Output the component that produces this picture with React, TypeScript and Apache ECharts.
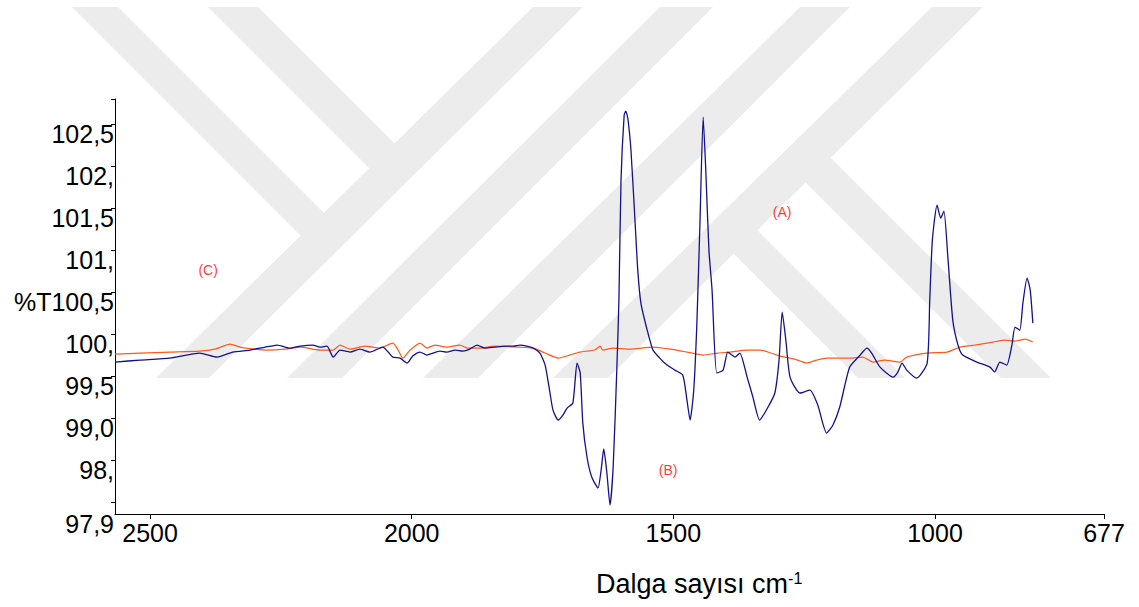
import React, { useEffect, useRef } from "react";
import * as echarts from "echarts";

// ---- Data ----
const blueX = [
  2567, 2519, 2462, 2405, 2372, 2342, 2309, 2280, 2257, 2233, 2213, 2189, 2175, 2162, 2150, 2137, 2118, 2099, 2080, 2055,
  2045, 2036, 2022, 2009, 1998, 1984, 1971, 1959, 1946, 1933, 1917, 1902, 1889, 1875, 1860, 1841, 1822, 1806, 1793, 1780,
  1768, 1755, 1745, 1736, 1730, 1720, 1711, 1703, 1692, 1684, 1678, 1673, 1665, 1656, 1644, 1638, 1633, 1627, 1621, 1615,
  1608, 1604, 1600, 1594, 1591, 1587, 1581, 1573, 1568, 1562, 1550, 1539, 1526, 1512, 1497, 1482, 1474, 1468, 1461, 1455,
  1449, 1443, 1438, 1432, 1426, 1417, 1405, 1396, 1388, 1382, 1373, 1359, 1348, 1335, 1319, 1306, 1298, 1292, 1285, 1277,
  1258, 1239, 1224, 1207, 1195, 1182, 1163, 1143, 1130, 1121, 1105, 1080, 1071, 1063, 1054, 1035, 1015, 1010, 1005, 996,
  989, 983, 975, 966, 956, 947, 920, 895, 886, 876, 863, 853, 847, 838, 832, 824, 818, 813,
];
const blueY = [
  99.667, 99.69, 99.714, 99.774, 99.726, 99.786, 99.81, 99.845, 99.869, 99.833, 99.857, 99.869, 99.845, 99.857, 99.726, 99.81, 99.786, 99.821, 99.786, 99.845,
  99.786, 99.726, 99.714, 99.655, 99.738, 99.786, 99.75, 99.774, 99.798, 99.786, 99.81, 99.798, 99.821, 99.869, 99.833, 99.845, 99.857, 99.857, 99.869, 99.857,
  99.833, 99.774, 99.631, 99.31, 99.095, 98.976, 99.036, 99.119, 99.179, 99.655, 99.536, 98.94, 98.536, 98.298, 98.167, 98.381, 98.631, 98.345, 97.964, 98.417,
  99.583, 100.405, 101.833, 102.607, 102.655, 102.571, 102.19, 101.321, 100.762, 100.369, 100.048, 99.81, 99.714, 99.631, 99.571, 99.512, 99.214, 98.976, 99.333, 100.131,
  101.357, 102.583, 101.952, 101.0, 100.524, 99.536, 99.571, 99.786, 99.75, 99.726, 99.774, 99.488, 99.25, 98.976, 99.131, 99.298, 99.69, 100.262, 99.929, 99.488,
  99.298, 99.333, 99.155, 98.821, 98.917, 99.131, 99.607, 99.75, 99.833, 99.774, 99.607, 99.488, 99.548, 99.655, 99.571, 99.476, 99.655, 100.405, 101.119, 101.536,
  101.381, 101.464, 100.881, 100.167, 99.869, 99.75, 99.667, 99.607, 99.548, 99.667, 99.631, 99.869, 100.083, 100.048, 100.369, 100.667, 100.524, 100.131,
];

const orangeX = [
  2567, 2519, 2462, 2405, 2376, 2347, 2328, 2299, 2277, 2242, 2213, 2175, 2150, 2137, 2118, 2089, 2061, 2036, 2026, 2017,
  2003, 1984, 1971, 1956, 1933, 1908, 1894, 1870, 1841, 1799, 1768, 1745, 1720, 1698, 1679, 1650, 1640, 1635, 1615, 1583,
  1539, 1506, 1474, 1443, 1415, 1392, 1359, 1335, 1296, 1268, 1245, 1226, 1207, 1163, 1138, 1119, 1096, 1067, 1054, 1015,
  977, 952, 924, 889, 866, 847, 828, 813,
];
const orangeY = [
  99.762, 99.774, 99.786, 99.798, 99.821, 99.881, 99.845, 99.821, 99.81, 99.821, 99.845, 99.81, 99.81, 99.869, 99.821, 99.857, 99.833, 99.893, 99.81, 99.714,
  99.81, 99.893, 99.833, 99.869, 99.845, 99.869, 99.833, 99.833, 99.857, 99.845, 99.833, 99.774, 99.714, 99.75, 99.786, 99.81, 99.857, 99.81, 99.833, 99.821,
  99.845, 99.821, 99.786, 99.75, 99.774, 99.786, 99.81, 99.81, 99.738, 99.702, 99.655, 99.69, 99.714, 99.714, 99.726, 99.667, 99.69, 99.667, 99.726, 99.774,
  99.786, 99.845, 99.869, 99.905, 99.929, 99.917, 99.94, 99.905,
];

const xTickValues = [2500, 2000, 1500, 1000, 677];
const yTickValues = [98, 98.5, 99, 99.5, 100, 100.5, 101, 101.5, 102, 102.5, 102.8];
const yLabelValues = [97.857, 98.5, 99, 99.5, 100, 100.5, 101, 101.5, 102, 102.5];
const yLabelTexts = ["97,9", "98,", "99,0", "99,5", "100,", "%T100,5", "101,", "101,5", "102,", "102,5"];

const annotations = [
  { name: "(A)", x: 1292, y: 101.45 },
  { name: "(B)", x: 1510, y: 98.38 },
  { name: "(C)", x: 2389, y: 100.76 },
];

const FONT = "'Liberation Sans', Arial, sans-serif";

// watermark decoration (light grey stripes)
const watermark: number[][][] = [
  [[72, 7], [118, 7], [326, 215], [303, 238]],
  [[208, 7], [258, 7], [396, 145], [371, 170]],
  [[533, 7], [583, 7], [209, 378], [156, 378]],
  [[660, 7], [713, 7], [342, 378], [287, 378]],
  [[800, 7], [850, 7], [478, 378], [423, 378]],
  [[932, 7], [983, 7], [608, 378], [553, 378]],
  [[720, 240], [742, 215], [905, 378], [858, 378]],
  [[798, 175], [823, 150], [1051, 378], [1001, 378]],
];

function zip(xs: number[], ys: number[]) {
  return xs.map((x, i) => [x, ys[i]]);
}

export default function App() {
  const ref = useRef<HTMLDivElement>(null);
  useEffect(() => {
    document.body.style.margin = "0";
    const chart = echarts.init(ref.current!, null, { renderer: "svg" });
    const option: any = {
      animation: false,
      backgroundColor: "#ffffff",
      grid: { left: 115, right: 35, top: 99, bottom: 93 },
      xAxis: {
        type: "value",
        inverse: true,
        min: 677,
        max: 2567,
        splitLine: { show: false },
        axisLine: { show: true, onZero: false, lineStyle: { color: "#000", width: 1 } },
        axisTick: { show: true, length: 5, customValues: xTickValues, lineStyle: { color: "#000" } },
        axisLabel: {
          customValues: xTickValues,
          color: "#000",
          fontSize: 25,
          fontFamily: FONT,
          margin: 6,
          formatter: (v: number) => String(v),
        },
      },
      yAxis: {
        type: "value",
        min: 97.857,
        max: 102.8,
        splitLine: { show: false },
        axisLine: { show: true, onZero: false, lineStyle: { color: "#000", width: 1 } },
        axisTick: { show: true, length: 4, customValues: yTickValues, lineStyle: { color: "#000" } },
        axisLabel: {
          customValues: yLabelValues,
          showMinLabel: true,
          showMaxLabel: true,
          color: "#000",
          fontSize: 25,
          fontFamily: FONT,
          margin: 1,
          verticalAlign: "top",
          lineHeight: 19,
          formatter: (v: number) => {
            const i = yLabelValues.findIndex((t) => Math.abs(t - v) < 1e-6);
            return i >= 0 ? yLabelTexts[i] : "";
          },
        },
      },
      graphic: [
        ...watermark.map((pts) => ({
          type: "polygon",
          z: -10,
          silent: true,
          shape: { points: pts },
          style: { fill: "#ececec" },
        })),
        {
          type: "text",
          x: 596,
          y: 570,
          z: 10,
          style: {
            text: "{a|Dalga sayısı cm}{b|-1}",
            fill: "#000",
            rich: {
              a: { fontSize: 27, fontFamily: FONT, fill: "#000" },
              b: { fontSize: 16, fontFamily: FONT, fill: "#000", verticalAlign: "top" },
            },
          },
        },
      ],
      series: [
        {
          type: "line",
          name: "orange",
          data: zip(orangeX, orangeY),
          showSymbol: false,
          symbol: "none",
          smooth: 0.2,
          lineStyle: { color: "#ff5a1e", width: 1.2 },
          z: 2,
        },
        {
          type: "line",
          name: "blue",
          data: zip(blueX, blueY),
          showSymbol: false,
          symbol: "none",
          smooth: 0.2,
          lineStyle: { color: "#12128c", width: 1.3 },
          z: 3,
        },
        {
          type: "scatter",
          data: annotations.map((a) => ({ value: [a.x, a.y], name: a.name })),
          symbolSize: 1,
          itemStyle: { color: "rgba(0,0,0,0)" },
          label: {
            show: true,
            position: "inside",
            formatter: (p: any) => p.name,
            color: "#ff0000",
            fontSize: 14,
            fontFamily: FONT,
          },
          z: 4,
        },
      ],
    };
    chart.setOption(option);
    return () => chart.dispose();
  }, []);
  return <div ref={ref} style={{ position: "absolute", left: 0, top: 0, width: 1139, height: 607 }} />;
}
